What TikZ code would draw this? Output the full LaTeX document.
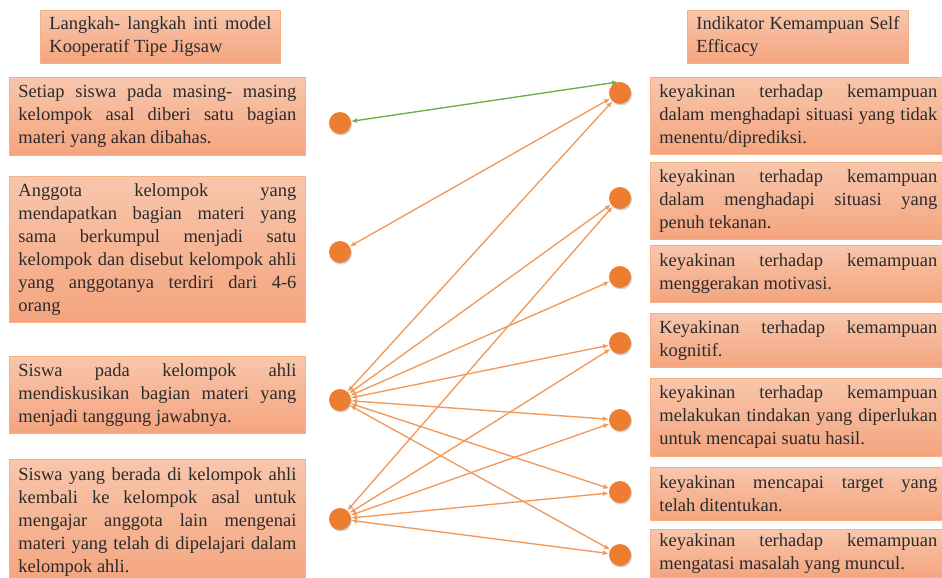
\documentclass[tikz,border=0pt]{standalone}
\usepackage{fontspec}
\setmainfont{Liberation Serif}
\usetikzlibrary{arrows.meta,shadows}
\definecolor{kotakatas}{HTML}{F8C6AC}
\definecolor{kotakbawah}{HTML}{F4A47E}
\definecolor{tepi}{HTML}{F4B183}
\definecolor{oranye}{HTML}{ED7D31}
\definecolor{panah}{HTML}{F2995A}
\definecolor{hijau}{HTML}{70AD47}
\definecolor{tulisan}{HTML}{2B2B2B}
\tikzset{
  kotak/.style={draw=tepi, line width=0.8pt, top color=kotakatas, bottom color=kotakbawah,
    anchor=north west, text width=278pt, inner xsep=9pt, inner ysep=0pt, align=justify,
    font=\fontsize{18.5}{23}\selectfont, text=tulisan},
  judul/.style={kotak, text width=222pt},
  bulat/.style={circle, fill=oranye, minimum size=22pt, inner sep=0pt,
    drop shadow={opacity=0.35, shadow xshift=1pt, shadow yshift=-1.5pt}},
  hubung/.style={draw=panah, line width=1.35pt, {Latex[length=6pt,width=5pt]}-{Latex[length=6pt,width=5pt]}}
}
\begin{document}
\begin{tikzpicture}[x=1pt,y=-1pt]
        \useasboundingbox (0,0) rectangle (942,578);
        \clip (0,0) rectangle (942,578);

        \node[judul, minimum height=53pt] (judulkiri) at (40,10) {Langkah- langkah inti model\linebreak Kooperatif Tipe Jigsaw};
        \node[kotak, minimum height=78pt] (langkah1) at (9,77) {Setiap siswa pada masing- masing\linebreak kelompok asal diberi satu bagian\linebreak materi yang akan dibahas.};
        \node[kotak, minimum height=146pt] (langkah2) at (9,176) {Anggota kelompok yang\linebreak mendapatkan bagian materi yang\linebreak sama berkumpul menjadi satu\linebreak kelompok dan disebut kelompok ahli\linebreak yang anggotanya terdiri dari 4-6\linebreak orang};
        \node[kotak, minimum height=77pt] (langkah3) at (9,356) {Siswa pada kelompok ahli\linebreak mendiskusikan bagian materi yang\linebreak menjadi tanggung jawabnya.};
        \node[kotak, minimum height=126pt] (langkah4) at (9,459) {Siswa yang berada di kelompok ahli\linebreak kembali ke kelompok asal untuk\linebreak mengajar anggota lain mengenai\linebreak materi yang telah di dipelajari dalam\linebreak kelompok ahli.};

        \node[judul, text width=203pt, minimum height=53pt] (judulkanan) at (687,10) {Indikator Kemampuan Self\linebreak Efficacy};
        \node[kotak, minimum height=77pt] (indikator1) at (650,77) {keyakinan terhadap kemampuan\linebreak dalam menghadapi situasi yang tidak\linebreak menentu/diprediksi.};
        \node[kotak, minimum height=77pt] (indikator2) at (650,162) {keyakinan terhadap kemampuan\linebreak dalam menghadapi situasi yang\linebreak penuh tekanan.};
        \node[kotak, minimum height=57pt] (indikator3) at (650,245) {keyakinan terhadap kemampuan\linebreak menggerakan motivasi.};
        \node[kotak, minimum height=54pt] (indikator4) at (650,313) {Keyakinan terhadap kemampuan\linebreak kognitif.};
        \node[kotak, minimum height=78pt] (indikator5) at (650,378) {keyakinan terhadap kemampuan\linebreak melakukan tindakan yang diperlukan\linebreak untuk mencapai suatu hasil.};
        \node[kotak, minimum height=53pt] (indikator6) at (650,467) {keyakinan mencapai target yang\linebreak telah ditentukan.};
        \node[kotak, minimum height=48pt] (indikator7) at (650,529) {keyakinan terhadap kemampuan\linebreak mengatasi masalah yang muncul.};

        \node[bulat] (k1) at (340,123) {};
        \node[bulat] (k2) at (340,252) {};
        \node[bulat] (k3) at (340,400) {};
        \node[bulat] (k4) at (340,519) {};
        \node[bulat] (i1) at (620,93) {};
        \node[bulat] (i2) at (620,198) {};
        \node[bulat] (i3) at (620,277) {};
        \node[bulat] (i4) at (620,343) {};
        \node[bulat] (i5) at (620,420) {};
        \node[bulat] (i6) at (620,492) {};
        \node[bulat] (i7) at (620,555) {};

        \draw[hubung, draw=hijau] (k1) -- (i1.100);
        \draw[hubung] (k2) -- (i1);
        \foreach \j in {1,...,7}
            \draw[hubung] (k3) -- (i\j);
        \foreach \j in {2,4,5,6,7}
            \draw[hubung] (k4) -- (i\j);
    \end{tikzpicture}
\end{document}
